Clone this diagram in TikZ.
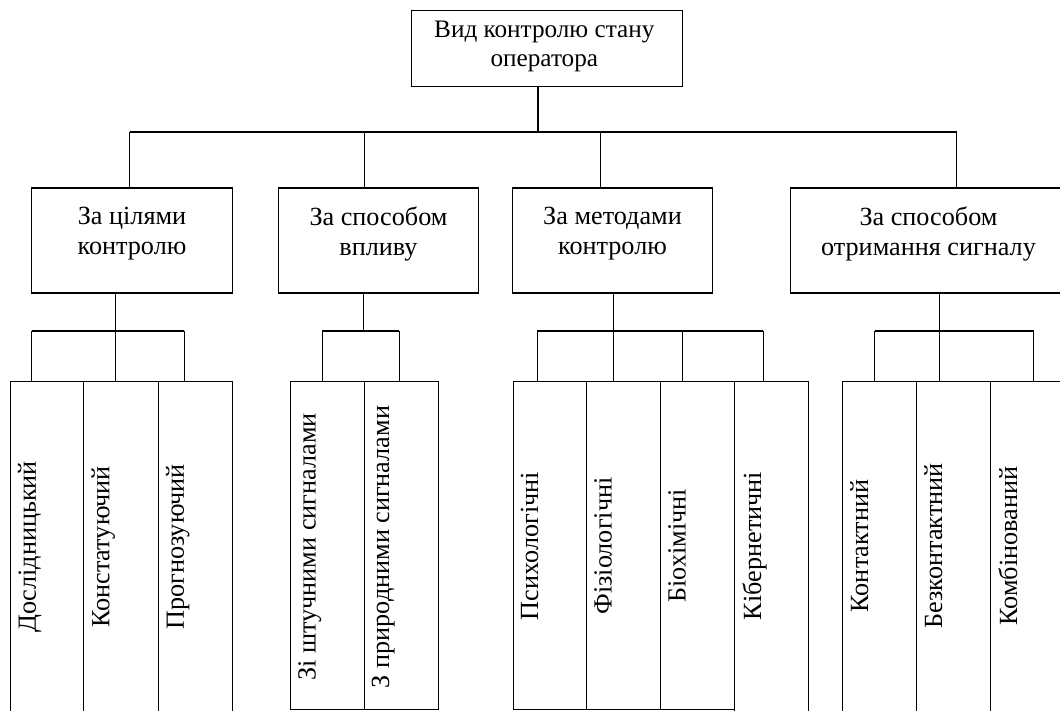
\documentclass[tikz,border=0pt]{standalone}
\usepackage{fontspec}
\setmainfont{Liberation Serif}
\newcommand\dfont{\fontsize{26.2}{30}\selectfont}
\newcommand\tfont{\fontsize{25.2}{29}\selectfont}
\begin{document}
\begin{tikzpicture}[x=1pt,y=-1pt, line width=1.1pt, font=\dfont,
  box/.style={draw, rectangle, inner sep=0pt, minimum height=105pt},
  leaf/.style={draw, rectangle, inner sep=0pt, anchor=north west},
  lab/.style={inner sep=0pt, align=center, anchor=north},
  vlab/.style={inner sep=0pt, rotate=90, anchor=north}]
\useasboundingbox (0,0) rectangle (1060,711);
\clip (0,0) rectangle (1060,711);

% top
\node[draw, inner sep=0pt, minimum width=271pt, minimum height=76pt] (top) at (547.3,48.2) {};
\node[lab, font=\tfont] (t0) at ([xshift=-3pt,yshift=-11pt]top.north) {Вид контролю стану\\оператора};

% level 2
\node[box, minimum width=200.5pt] (b1) at (132,240.5) {};
\node[box, minimum width=200.5pt] (b2) at (378.5,240.5) {};
\node[box, minimum width=200pt] (b3) at (612.5,240.5) {};
\node[box, minimum width=276.4pt] (b4) at (928.5,240.5) {};
\node[lab] (t1) at ([yshift=-19pt]b1.north) {За цілями\\контролю};
\node[lab] (t2) at ([yshift=-19pt]b2.north) {За способом\\впливу};
\node[lab] (t3) at ([yshift=-19pt]b3.north) {За методами\\контролю};
\node[lab] (t4) at ([yshift=-19pt]b4.north) {За способом\\отримання сигналу};

% leaves
\node[leaf, minimum width=73.5pt, minimum height=340pt] (l1) at (9.8,381) {};
\node[leaf, minimum width=74.4pt, minimum height=340pt] (l2) at (83.3,381) {};
\node[leaf, minimum width=74.3pt, minimum height=340pt] (l3) at (157.7,381) {};
\node[leaf, minimum width=73.5pt, minimum height=328pt] (l4) at (290,381) {};
\node[leaf, minimum width=74pt, minimum height=328pt] (l5) at (363.5,381) {};
\node[leaf, minimum width=73.5pt, minimum height=328pt] (l6) at (512.5,381) {};
\node[leaf, minimum width=74pt, minimum height=328pt] (l7) at (586,381) {};
\node[leaf, minimum width=74pt, minimum height=328pt] (l8) at (660,381) {};
\node[leaf, minimum width=74pt, minimum height=340pt] (l9) at (734,381) {};
\node[leaf, minimum width=74pt, minimum height=340pt] (l10) at (842,381) {};
\node[leaf, minimum width=74pt, minimum height=340pt] (l11) at (916,381) {};
\node[leaf, minimum width=74pt, minimum height=340pt] (l12) at (990,381) {};

\node[vlab] (v1) at (17.5,547) {Дослідницький};
\node[vlab] (v2) at (91,547) {Констатуючий};
\node[vlab] (v3) at (165.4,547) {Прогнозуючий};
\node[vlab] (v4) at (297.7,547) {Зі штучними сигналами};
\node[vlab] (v5) at (371.2,547) {З природними сигналами};
\node[vlab] (v6) at (520.2,546) {Психологічні};
\node[vlab] (v7) at (593.7,546) {Фізіологічні};
\node[vlab] (v8) at (667.7,546) {Біохімічні};
\node[vlab] (v9) at (741.7,546) {Кібернетичні};
\node[vlab] (v10) at (849.7,546) {Контактний};
\node[vlab] (v11) at (923.7,546) {Безконтактний};
\node[vlab] (v12) at (997.7,546) {Комбінований};

% main connectors
\coordinate (m) at (538,132);
\coordinate (d1) at (129.5,132);
\coordinate (d2) at (364.4,132);
\coordinate (d3) at (600.3,132);
\coordinate (d4) at (956.6,132);
\draw (top.south -| m) -- (m);
\draw (d1) -- (d4);
\draw (d1) -- (d1 |- b1.north);
\draw (d2) -- (d2 |- b2.north);
\draw (d3) -- (d3 |- b3.north);
\draw (d4) -- (d4 |- b4.north);

% group 1
\coordinate (s1) at (115.6,331);
\coordinate (s1a) at (31.8,331);
\coordinate (s1c) at (184.2,331);
\draw (b1.south -| s1) -- (s1);
\draw (s1a) -- (s1c);
\draw (s1a) -- (s1a |- l1.north);
\draw (s1) -- (s1 |- l2.north);
\draw (s1c) -- (s1c |- l3.north);

% group 2
\coordinate (s2) at (363.8,331);
\coordinate (s2a) at (322.2,331);
\coordinate (s2b) at (399.3,331);
\draw (b2.south -| s2) -- (s2);
\draw (s2a) -- (s2b);
\draw (s2a) -- (s2a |- l4.north);
\draw (s2b) -- (s2b |- l5.north);

% group 3
\coordinate (s3) at (613.5,331);
\coordinate (s3a) at (537.4,331);
\coordinate (s3c) at (682.8,331);
\coordinate (s3d) at (763.3,331);
\draw (b3.south -| s3) -- (s3);
\draw (s3a) -- (s3d);
\draw (s3a) -- (s3a |- l6.north);
\draw (s3) -- (s3 |- l7.north);
\draw (s3c) -- (s3c |- l8.north);
\draw (s3d) -- (s3d |- l9.north);

% group 4
\coordinate (s4) at (939.1,331);
\coordinate (s4a) at (874.8,331);
\coordinate (s4c) at (1033.7,331);
\draw (b4.south -| s4) -- (s4);
\draw (s4a) -- (s4c);
\draw (s4a) -- (s4a |- l10.north);
\draw (s4) -- (s4 |- l11.north);
\draw (s4c) -- (s4c |- l12.north);
\end{tikzpicture}
\end{document}
